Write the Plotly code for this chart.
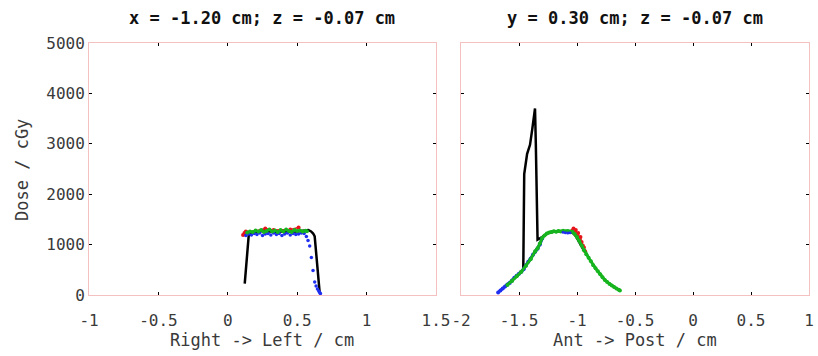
import plotly.graph_objects as go

# ---------------- data ----------------
# Left panel: Right -> Left profile
left_black_x = [0.122, 0.13, 0.14, 0.151, 0.17, 0.20, 0.25, 0.30, 0.35, 0.40, 0.45, 0.50, 0.55, 0.58, 0.60, 0.615, 0.626, 0.645, 0.662]
left_black_y = [227, 520, 860, 1190, 1240, 1250, 1270, 1260, 1250, 1265, 1255, 1260, 1270, 1290, 1262, 1220, 1165, 600, 40]

left_blue_x = [0.13, 0.15, 0.17, 0.19, 0.21, 0.23, 0.25, 0.27, 0.29, 0.31, 0.33, 0.35, 0.37, 0.39, 0.41, 0.43,
               0.45, 0.47, 0.49, 0.51, 0.53, 0.55, 0.566, 0.578, 0.59, 0.602, 0.614, 0.626, 0.636, 0.646, 0.655, 0.662, 0.667]
left_blue_y = [1180, 1210, 1190, 1220, 1200, 1230, 1180, 1210, 1220, 1190, 1230, 1200, 1220, 1180, 1210, 1230,
               1190, 1220, 1200, 1210, 1230, 1220, 1160, 1080, 970, 744, 485, 260, 180, 120, 80, 50, 30]

left_green_x = [0.14, 0.16, 0.18, 0.20, 0.22, 0.24, 0.26, 0.28, 0.30, 0.32, 0.34, 0.36, 0.38, 0.40, 0.42, 0.44,
                0.46, 0.48, 0.50, 0.52, 0.54, 0.56, 0.57]
left_green_y = [1240, 1260, 1250, 1280, 1260, 1290, 1250, 1270, 1300, 1260, 1280, 1250, 1290, 1260, 1300, 1270,
                1250, 1290, 1270, 1280, 1260, 1275, 1265]

left_red_x = [0.11, 0.12, 0.13, 0.20, 0.27, 0.33, 0.45, 0.51]
left_red_y = [1190, 1230, 1260, 1270, 1320, 1290, 1300, 1340]

# Right panel: Ant -> Post profile
right_black_x = [-1.463, -1.46, -1.455, -1.43, -1.405, -1.385, -1.362, -1.355, -1.35, -1.345, -1.34, -1.30,
                 -1.25, -1.20, -1.15, -1.10, -1.05, -1.02, -1.00, -0.98, -0.96, -0.94]
right_black_y = [520, 1400, 2400, 2800, 2980, 3300, 3700, 3000, 2000, 1165, 1100, 1150,
                 1230, 1255, 1260, 1265, 1250, 1200, 1130, 1050, 950, 880]

right_blue_x = [-1.68, -1.66, -1.64, -1.62, -1.60, -1.58, -1.56, -1.54, -1.52, -1.50, -1.48, -1.46, -1.44,
                -1.42, -1.40, -1.38, -1.36, -1.34, -1.32, -1.30, -1.12, -1.10, -1.08, -1.06]
right_blue_y = [50, 90, 130, 170, 210, 240, 290, 340, 380, 420, 460, 510, 590,
                660, 720, 800, 860, 920, 1000, 1120, 1245, 1235, 1230, 1235]

right_green_x = [-1.60, -1.56, -1.52, -1.48, -1.44, -1.40, -1.36, -1.34, -1.32, -1.30, -1.28, -1.26, -1.24,
                 -1.22, -1.20, -1.18, -1.16, -1.14, -1.12, -1.10, -1.08, -1.06, -1.04, -1.02, -1.00, -0.98,
                 -0.96, -0.94, -0.92, -0.90, -0.88, -0.86, -0.84, -0.82, -0.80, -0.78, -0.76, -0.74, -0.72,
                 -0.70, -0.68, -0.66, -0.64, -0.63]
right_green_y = [200, 280, 370, 460, 580, 710, 870, 930, 1020, 1130, 1180, 1220, 1240,
                 1250, 1265, 1255, 1270, 1260, 1275, 1265, 1270, 1260, 1255, 1210, 1150, 1070,
                 980, 890, 810, 740, 670, 590, 530, 470, 410, 350, 300, 260, 220,
                 190, 160, 130, 105, 90]

right_red_x = [-1.04, -1.03, -1.02, -1.01, -1.00, -0.99, -0.98, -0.97, -0.96, -0.95, -0.94, -0.93]
right_red_y = [1280, 1320, 1250, 1290, 1200, 1230, 1120, 1150, 1050, 980, 940, 870]

left_xticks = [-1, -0.5, 0, 0.5, 1, 1.5]
left_xlabels = ["-1", "-0.5", "0", "0.5", "1", "1.5"]
right_xticks = [-2, -1.5, -1, -0.5, 0, 0.5, 1]
right_xlabels = ["-2", "-1.5", "-1", "-0.5", "0", "0.5", "1"]
yticks = [0, 1000, 2000, 3000, 4000, 5000]

title_left = "x = -1.20 cm; z = -0.07 cm"
title_right = "y = 0.30 cm; z = -0.07 cm"
xlabel_left = "Right -> Left / cm"
xlabel_right = "Ant -> Post / cm"
ylabel = "Dose / cGy"

# ---------------- figure ----------------
FONT = "DejaVu Sans Mono"
W, H = 818, 356
fig = go.Figure()

def add(x, y, color, xa, ya, mode, size=4, width=2):
    fig.add_trace(go.Scatter(x=x, y=y, xaxis=xa, yaxis=ya, mode=mode,
                             line=dict(color=color, width=width),
                             marker=dict(color=color, size=size),
                             showlegend=False, hoverinfo="skip"))

# left panel
add(left_red_x, left_red_y, "#e8141c", "x", "y", "lines+markers", 4, 1.5)
add(left_black_x, left_black_y, "#000000", "x", "y", "lines", 4, 2.5)
add(left_blue_x, left_blue_y, "#1f2ff0", "x", "y", "markers", 3.5)
add(left_green_x, left_green_y, "#16b41e", "x", "y", "lines+markers", 4, 2)

# right panel
add(right_black_x, right_black_y, "#000000", "x2", "y2", "lines", 4, 2.5)
add(right_red_x, right_red_y, "#e8141c", "x2", "y2", "lines+markers", 4, 1.5)
add(right_blue_x[:20], right_blue_y[:20], "#1f2ff0", "x2", "y2", "lines+markers", 4, 3)
add(right_green_x, right_green_y, "#16b41e", "x2", "y2", "lines+markers", 4, 3)
add(right_blue_x[20:], right_blue_y[20:], "#1f2ff0", "x2", "y2", "markers", 3)

axis_common = dict(showgrid=False, zeroline=False, showline=True, linecolor="#f4c0c0", linewidth=1,
                   mirror="allticks", ticks="inside", ticklen=3, tickwidth=1, tickcolor="#000000",
                   automargin=False,
                   tickfont=dict(family=FONT, size=16, color="#3a3a3a"))

ybot, ytop = 1 - 295 / H, 1 - 43 / H
fig.update_layout(
    width=W, height=H, margin=dict(l=0, r=0, t=0, b=0),
    paper_bgcolor="white", plot_bgcolor="white",
    xaxis=dict(domain=[89 / W, 436 / W], range=[-1, 1.5], tickvals=left_xticks, ticktext=left_xlabels,
               anchor="y", ticklabelstandoff=11, **axis_common),
    yaxis=dict(domain=[ybot, ytop], range=[0, 5000], tickvals=yticks, anchor="x", **axis_common),
    xaxis2=dict(domain=[461 / W, 809 / W], range=[-2, 1], tickvals=right_xticks, ticktext=right_xlabels,
                anchor="y2", ticklabelstandoff=11, **axis_common),
    yaxis2=dict(domain=[ybot, ytop], range=[0, 5000], tickvals=yticks, showticklabels=False,
                anchor="x2", **axis_common),
)

ann_font = dict(family=FONT, size=17, color="#3a3a3a")
def ann(text, px, py, font, angle=0):
    fig.add_annotation(text=text, x=px / W, y=1 - py / H, xref="paper", yref="paper",
                       xanchor="center", yanchor="middle", textangle=angle,
                       showarrow=False, font=font)

title_font = dict(family=FONT, size=17, color="#111111")
ann("<b>" + title_left + "</b>", 262, 18, title_font)
ann("<b>" + title_right + "</b>", 635, 18, title_font)
ann(xlabel_left, 262, 340, ann_font)
ann(xlabel_right, 635, 340, ann_font)
ann(ylabel, 22, 170, ann_font, -90)

fig.write_html("out.html")
